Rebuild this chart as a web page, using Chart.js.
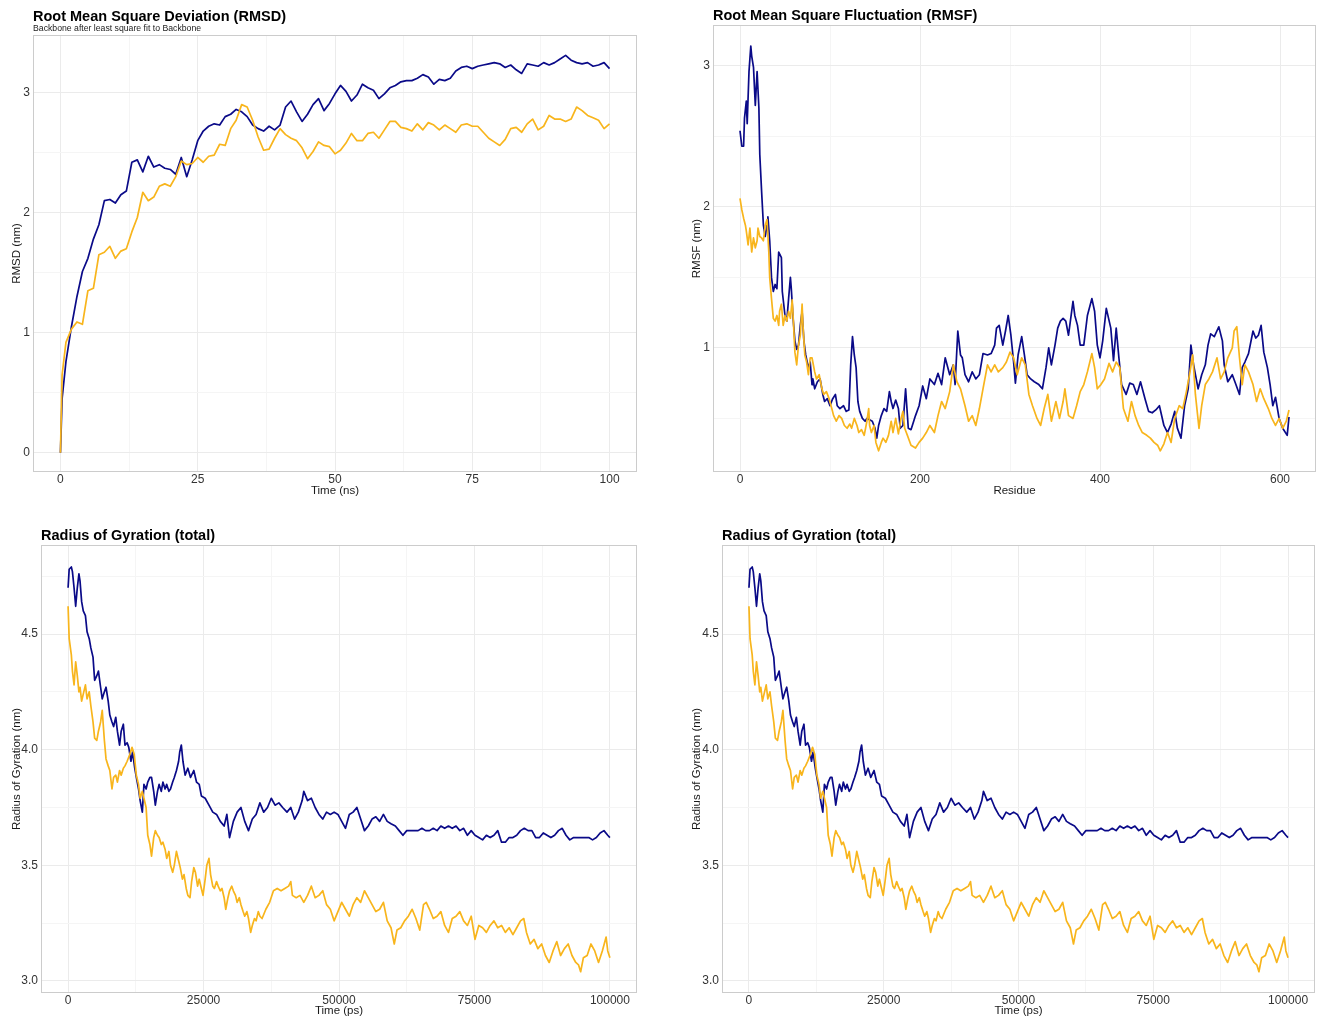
<!DOCTYPE html>
<html>
<head>
<meta charset="utf-8">
<title>RMSD / RMSF / Rg</title>
<script src="https://cdn.jsdelivr.net/npm/chart.js@4.4.1/dist/chart.umd.min.js"></script>
<style>
  html, body { margin: 0; padding: 0; background: #fff; }
  #page { position: relative; width: 1324px; height: 1018px; }
  #page canvas { position: absolute; }
</style>
</head>
<body>
<div id="page">
  <canvas id="rmsd" width="662" height="505" style="left:0;top:0"></canvas>
  <canvas id="rmsf" width="662" height="505" style="left:662px;top:0"></canvas>
  <canvas id="rgA" width="662" height="513" style="left:0;top:505px"></canvas>
  <canvas id="rgB" width="662" height="513" style="left:662px;top:505px"></canvas>
</div>
<script>
/* ---------- data: RMSD (ns / nm) ---------- */
const rmsdTime = [0, 0.3, 1, 2, 3, 4, 5, 6, 7, 8, 9, 10, 11, 12, 13, 14, 15, 16, 17, 18, 19, 20,
  21, 22, 23, 24, 25, 26, 27, 28, 29, 30, 31, 32, 33, 34, 35, 36, 37, 38, 39, 40,
  41, 42, 43, 44, 45, 46, 47, 48, 49, 50, 51, 52, 53, 54, 55, 56, 57, 58, 59, 60,
  61, 62, 63, 64, 65, 66, 67, 68, 69, 70, 71, 72, 73, 74, 75, 76, 77, 78, 79, 80,
  81, 82, 83, 84, 85, 86, 87, 88, 89, 90, 91, 92, 93, 94, 95, 96, 97, 98, 99, 100];
const rmsdNavy = [0, 0.45, 0.76, 1.05, 1.30, 1.51, 1.62, 1.78, 1.90, 2.10, 2.11, 2.08,
  2.15, 2.18, 2.42, 2.44, 2.34, 2.47, 2.38, 2.40, 2.37, 2.36,
  2.32, 2.46, 2.30, 2.44, 2.60, 2.68, 2.72, 2.74, 2.73, 2.80,
  2.82, 2.86, 2.84, 2.80, 2.73, 2.70, 2.68, 2.72, 2.69, 2.73,
  2.88, 2.93, 2.84, 2.76, 2.82, 2.90, 2.95, 2.85, 2.91, 2.99,
  3.06, 3.01, 2.93, 2.98, 3.07, 3.04, 3.02, 2.95, 2.99, 3.04,
  3.06, 3.09, 3.10, 3.10, 3.12, 3.15, 3.13, 3.07, 3.11, 3.10,
  3.12, 3.18, 3.21, 3.22, 3.20, 3.22, 3.23, 3.24, 3.25, 3.24,
  3.21, 3.23, 3.19, 3.16, 3.24, 3.23, 3.22, 3.25, 3.23, 3.25,
  3.28, 3.31, 3.27, 3.25, 3.24, 3.25, 3.22, 3.23, 3.25, 3.20];
const rmsdGold = [0, 0.65, 0.92, 1.03, 1.09, 1.07, 1.35, 1.37, 1.65, 1.67, 1.72, 1.62,
  1.68, 1.70, 1.84, 1.96, 2.17, 2.10, 2.13, 2.22, 2.24, 2.22,
  2.30, 2.43, 2.40, 2.41, 2.46, 2.42, 2.47, 2.48, 2.57, 2.56,
  2.70, 2.77, 2.90, 2.88, 2.77, 2.63, 2.52, 2.53, 2.62, 2.70,
  2.65, 2.62, 2.60, 2.54, 2.45, 2.51, 2.59, 2.56, 2.55, 2.49,
  2.52, 2.58, 2.66, 2.60, 2.60, 2.66, 2.67, 2.62, 2.69, 2.76,
  2.76, 2.71, 2.70, 2.68, 2.74, 2.69, 2.75, 2.73, 2.69, 2.73,
  2.70, 2.67, 2.73, 2.74, 2.72, 2.72, 2.67, 2.62, 2.59, 2.56,
  2.61, 2.70, 2.71, 2.67, 2.74, 2.78, 2.69, 2.72, 2.81, 2.78,
  2.78, 2.76, 2.78, 2.88, 2.85, 2.81, 2.79, 2.77, 2.70, 2.74];

/* ---------- data: RMSF (residue / nm) ---------- */
const rmsfResNavy = [0, 2, 4, 5, 7, 8, 10, 12, 13, 15, 17, 19, 21, 22, 24, 26, 28, 30, 31, 33,
  35, 37, 39, 41, 43, 46, 47, 50, 52, 54, 56, 57, 59, 61, 63, 65, 67, 69, 71, 73,
  76, 78, 80, 81, 83, 86, 89, 92, 94, 97, 100, 103, 106, 108, 111, 115, 118, 121, 123, 125,
  127, 129, 131, 133, 136, 139, 141, 144, 147, 150, 152, 154, 157, 160, 163, 166, 168, 170, 173, 176,
  178, 181, 184, 187,
  190, 195, 199, 203, 207, 211, 216, 220, 224, 228, 233, 237, 239, 242, 245, 247, 250, 254, 258, 262,
  266, 270, 275, 279, 283, 285, 288, 292, 295, 298, 301, 304, 306, 309, 313, 316, 319, 323, 327, 332,
  336, 340, 343, 346, 350, 353, 356, 359, 362, 365, 370, 372, 375, 378, 382, 386, 391, 394, 397, 400,
  403, 407, 412, 415, 418, 421, 424, 429, 433, 437, 441, 445, 450, 454, 458, 462, 466, 471, 475, 479,
  483, 486, 490, 494, 498, 501, 504, 509, 513, 517, 520, 523, 527, 532, 536, 538, 542, 547, 551, 555,
  558, 561, 565, 570, 573, 576, 579, 582, 586, 589, 592, 595, 599, 603, 608, 610];
const rmsfNavy = [2.54, 2.43, 2.43, 2.63, 2.75, 2.59, 2.96, 3.14, 3.07, 2.99,
  2.72, 2.96, 2.70, 2.37, 2.11, 1.87, 1.79, 1.87, 1.93, 1.76,
  1.50, 1.40, 1.45, 1.42, 1.68, 1.64, 1.40, 1.23, 1.19, 1.35,
  1.50, 1.42, 1.21, 1.05, 0.99, 1.02, 1.16, 1.26, 1.05, 0.95,
  0.86, 0.90, 0.74, 0.78, 0.71, 0.76, 0.78, 0.67, 0.62, 0.64,
  0.59, 0.64, 0.67, 0.59, 0.57, 0.59, 0.55, 0.56, 0.88, 1.08,
  0.95, 0.86, 0.62, 0.55, 0.50, 0.48, 0.50, 0.49, 0.48, 0.43,
  0.36, 0.45, 0.52, 0.57, 0.55, 0.69, 0.62, 0.57, 0.63, 0.57,
  0.43, 0.45, 0.71, 0.43,
  0.42, 0.52, 0.59, 0.73, 0.64, 0.78, 0.74, 0.82, 0.74, 0.93, 0.81, 0.88, 0.74, 1.12, 0.95, 0.93, 0.81, 0.76, 0.83, 0.78,
  0.81, 0.96, 0.95, 0.96, 1.02, 1.14, 1.16, 1.02, 1.12, 1.23, 1.09, 0.90, 0.75, 0.95, 1.08, 0.95, 0.81, 0.78, 0.76, 0.74,
  0.71, 0.86, 1.00, 0.88, 1.02, 1.14, 1.19, 1.21, 1.19, 1.09, 1.33, 1.23, 1.16, 1.02, 1.02, 1.23, 1.35, 1.26, 1.02, 0.93,
  1.05, 1.28, 1.14, 0.91, 1.14, 0.93, 0.74, 0.67, 0.75, 0.74, 0.67, 0.76, 0.64, 0.55, 0.54, 0.56, 0.59, 0.45, 0.40, 0.46,
  0.55, 0.43, 0.36, 0.59, 0.71, 1.02, 0.88, 0.71, 0.81, 0.88, 1.02, 1.10, 1.08, 1.15, 1.05, 0.88, 0.76, 0.81, 0.74, 0.67,
  0.86, 0.90, 0.96, 1.12, 1.07, 1.09, 1.16, 0.97, 0.86, 0.74, 0.59, 0.65, 0.50, 0.43, 0.38, 0.51];
const rmsfResGold = [0, 2, 4, 6, 7, 9, 11, 13, 15, 17, 19, 20, 22, 24, 26, 28, 30, 32, 33, 35,
  37, 39, 41, 43, 44, 46, 48, 50, 52, 54, 56, 58, 59, 61, 63, 65, 67, 69, 70, 72,
  74, 76, 78, 80, 83, 85, 88, 91, 93, 96, 99, 102, 104, 107, 110, 113, 116, 119, 122, 124,
  127, 130, 132, 135, 138, 141, 143, 144, 146, 149, 151, 154, 157, 159, 162, 165, 168, 170, 173, 176,
  179, 181, 183, 186,
  190, 195, 199, 203, 207, 211, 216, 220, 224, 228, 233, 237, 241, 245, 250, 254, 258, 262, 266, 270,
  275, 279, 283, 287, 292, 296, 300, 304, 308, 313, 317, 321, 325, 330, 334, 338, 342, 346, 351, 355,
  359, 361, 365, 370, 374, 378, 382, 386, 391, 394, 397, 401, 405, 410, 414, 418, 422, 426, 431, 435,
  439, 443, 447, 452, 456, 460, 464, 467, 471, 475, 479, 483, 488, 492, 496, 500, 503, 506, 510, 513,
  517, 521, 525, 530, 534, 538, 542, 547, 549, 552, 555, 558, 561, 565, 570, 574, 578, 582, 587, 591,
  595, 599, 603, 607, 610];
const rmsfGold = [2.06, 1.98, 1.92, 1.87, 1.83, 1.73, 1.85, 1.68, 1.78, 1.71,
  1.76, 1.85, 1.79, 1.78, 1.76, 1.87, 1.91, 1.68, 1.50, 1.35,
  1.21, 1.19, 1.23, 1.16, 1.26, 1.31, 1.16, 1.23, 1.19, 1.26,
  1.21, 1.34, 1.23, 0.97, 0.88, 1.02, 1.09, 1.31, 1.16, 0.95,
  0.90, 0.81, 0.93, 0.93, 0.83, 0.78, 0.81, 0.71, 0.67, 0.69,
  0.64, 0.57, 0.52, 0.48, 0.52, 0.50, 0.45, 0.43, 0.46, 0.43,
  0.50, 0.45, 0.40, 0.42, 0.38, 0.48, 0.57, 0.45, 0.40, 0.45,
  0.33, 0.27, 0.33, 0.36, 0.33, 0.38, 0.48, 0.40, 0.50, 0.39,
  0.50, 0.55, 0.43, 0.38,
  0.31, 0.29, 0.33, 0.36, 0.40, 0.45, 0.40, 0.52, 0.62, 0.57, 0.69, 0.88, 0.76, 0.71, 0.59, 0.48, 0.52, 0.45, 0.57, 0.71,
  0.88, 0.83, 0.88, 0.83, 0.86, 0.90, 0.97, 0.93, 0.81, 0.93, 0.88, 0.67, 0.59, 0.50, 0.45, 0.57, 0.67, 0.48, 0.62, 0.50,
  0.62, 0.71, 0.52, 0.50, 0.59, 0.69, 0.74, 0.83, 0.96, 0.86, 0.71, 0.74, 0.78, 0.89, 0.83, 0.90, 0.86, 0.57, 0.48, 0.62,
  0.52, 0.45, 0.40, 0.38, 0.36, 0.33, 0.31, 0.27, 0.32, 0.40, 0.33, 0.50, 0.59, 0.57, 0.69, 0.83, 0.95, 0.67, 0.43, 0.59,
  0.74, 0.78, 0.83, 0.93, 0.78, 0.83, 0.93, 1.00, 1.12, 1.15, 0.93, 0.74, 0.88, 0.83, 0.74, 0.62, 0.71, 0.64, 0.57, 0.50,
  0.45, 0.50, 0.43, 0.48, 0.56];

/* ---------- data: radius of gyration (ps / nm) ---------- */
const rgTimeNavy = [0, 200, 600, 800, 1100, 1400, 1700, 2000, 2200, 2500,
  2800, 3200, 3500, 3900, 4200, 4600, 4900, 5300, 5600, 6000,
  6300, 6700, 7000, 7400, 7700, 8100, 8400, 8800, 9100, 9500,
  9800, 10200, 10500, 10900, 11200, 11600, 11900, 12300, 12600, 13000,
  13300, 13700, 14000, 14400, 14700, 15100, 15400, 15800, 16100, 16500,
  16800, 17200, 17500, 17900, 18200, 18600, 18900, 19300, 19600, 20000,
  20400, 20600, 20900, 21200, 21600, 22100, 22600, 23200, 23700, 24200,
  24600, 25300, 26000, 26700, 27400, 28100, 28800, 29300, 29800, 30500,
  31200, 31900, 32600, 33300, 34000, 34700, 35400, 36100, 36800, 37500,
  38200, 38900, 39600, 40400, 41100, 41800, 42500, 43200, 43500, 44200,
  44900, 45600, 46300, 47000, 47700, 48400, 49100, 49800, 50500, 51200,
  51900, 52600, 53300, 54000, 54700, 55400, 56100, 56800, 57500, 58200,
  58900, 59600, 60400, 61100, 61800, 62500, 63200, 63900, 64600, 65300,
  66000, 66700, 67400, 68100, 68800, 69500, 70200, 70900, 71600, 72300,
  73000, 73700, 74400, 75100, 75800, 76500, 77200, 77900, 78600, 79300,
  80000, 80700, 81400, 82100, 82800, 83500, 84200, 84900, 85600, 86300,
  87000, 87700, 88400, 89100, 89800, 90500, 91200, 91900, 92600, 93300,
  94000, 94700, 95400, 96100, 96800, 97500, 98200, 98900, 99600, 100000];
const rgNavy = [4.70, 4.78, 4.79, 4.77, 4.70, 4.62, 4.70, 4.76, 4.73, 4.64,
  4.60, 4.58, 4.51, 4.48, 4.44, 4.40, 4.30, 4.32, 4.34, 4.27,
  4.22, 4.25, 4.27, 4.21, 4.15, 4.12, 4.10, 4.14, 4.08, 4.02,
  4.08, 4.11, 4.02, 4.03, 4.01, 3.95, 3.99, 3.92, 3.88, 3.83,
  3.78, 3.73, 3.85, 3.83, 3.86, 3.88, 3.88, 3.82, 3.76, 3.82,
  3.85, 3.82, 3.86, 3.83, 3.85, 3.82, 3.83, 3.86, 3.88, 3.91,
  3.95, 3.99, 4.02, 3.95, 3.89, 3.92, 3.88, 3.91, 3.86, 3.85,
  3.80, 3.79, 3.76, 3.73, 3.72, 3.69, 3.67, 3.72, 3.62, 3.69,
  3.73, 3.75, 3.69, 3.65, 3.70, 3.72, 3.77, 3.73, 3.75, 3.79,
  3.76, 3.77, 3.75, 3.73, 3.75, 3.70, 3.73, 3.78, 3.82, 3.78,
  3.79, 3.75, 3.72, 3.70, 3.73, 3.72, 3.73, 3.72, 3.69, 3.66,
  3.72, 3.73, 3.75, 3.70, 3.65, 3.67, 3.70, 3.71, 3.69, 3.72,
  3.69, 3.68, 3.67, 3.65, 3.63, 3.65, 3.65, 3.65, 3.65, 3.66,
  3.65, 3.65, 3.66, 3.65, 3.67, 3.66, 3.67, 3.66, 3.67, 3.65,
  3.66, 3.63, 3.65, 3.63, 3.62, 3.61, 3.63, 3.62, 3.63, 3.65,
  3.60, 3.60, 3.62, 3.62, 3.63, 3.65, 3.66, 3.65, 3.65, 3.62,
  3.62, 3.64, 3.63, 3.62, 3.63, 3.65, 3.66, 3.63, 3.61, 3.62,
  3.62, 3.62, 3.62, 3.62, 3.61, 3.62, 3.64, 3.65, 3.63, 3.62];
const rgTimeGold = [0, 200, 600, 800, 1100, 1400, 1700, 2000, 2200, 2500,
  2800, 3200, 3500, 3900, 4200, 4600, 4900, 5300, 5600, 6000,
  6300, 6700, 7000, 7400, 7700, 8100, 8400, 8800, 9100, 9500,
  9800, 10200, 10500, 10900, 11400, 11800, 12200, 12600, 13000, 13300,
  13700, 14000, 14400, 14700, 15100, 15400, 15800, 16100, 16500, 16800,
  17200, 17500, 17900, 18200, 18600, 18900, 19300, 19600, 20000, 20400,
  20700, 21100, 21400, 21800, 22100, 22500, 22800, 23200, 23500, 23900,
  24200, 24600, 24900, 25300, 25600, 26000, 26300, 26700, 27000, 27400,
  27700, 28100, 28400, 28800, 29100, 29500, 29800, 30200, 30500, 30900,
  31200, 31600, 31900, 32300, 32600, 33000, 33300, 33700, 34000, 34400,
  34700, 35100, 35400, 35800, 36500, 37200, 37900, 38600, 39300, 40000,
  40700, 41100, 41400, 42100, 42800, 43500, 44200, 44900, 45600, 46300,
  47000, 47700, 48400, 49100, 49800, 50500, 51200, 51900, 52600, 53300,
  54000, 54700, 55400, 56100, 56800, 57500, 58200, 58900, 59600, 60200,
  60700, 61400, 62100, 62800, 63500, 64200, 64900, 65600, 66100, 66700,
  67400, 68100, 68800, 69500, 70200, 70900, 71600, 72300, 73000, 73700,
  74400, 75100, 75800, 76500, 77200, 77900, 78600, 79300, 80000, 80700,
  81400, 82100, 82800, 83500, 84100, 84600, 85300, 86000, 86700, 87400,
  88100, 88800, 89500, 90200, 90900, 91600, 92300, 93000, 93700, 94200,
  94600, 95100, 95800, 96500, 97200, 97900, 98600, 99300, 99600, 100000];
const rgGold = [4.62, 4.48, 4.41, 4.34, 4.28, 4.38, 4.32, 4.25, 4.27, 4.21,
  4.24, 4.28, 4.22, 4.25, 4.19, 4.12, 4.05, 4.04, 4.08, 4.12,
  4.17, 4.04, 3.96, 3.93, 3.91, 3.83, 3.88, 3.89, 3.86, 3.91,
  3.89, 3.92, 3.93, 3.95, 3.98, 4.01, 3.98, 3.89, 3.85, 3.79,
  3.82, 3.79, 3.75, 3.63, 3.59, 3.54, 3.62, 3.65, 3.63, 3.62,
  3.59, 3.60, 3.57, 3.53, 3.56, 3.50, 3.47, 3.50, 3.56, 3.52,
  3.49, 3.44, 3.46, 3.40, 3.37, 3.36, 3.43, 3.49, 3.47, 3.41,
  3.44, 3.40, 3.37, 3.44, 3.50, 3.53, 3.46, 3.41, 3.40, 3.43,
  3.41, 3.39, 3.40, 3.36, 3.31, 3.36, 3.39, 3.41, 3.39, 3.37,
  3.34, 3.36, 3.33, 3.30, 3.28, 3.30, 3.27, 3.21, 3.24, 3.27,
  3.26, 3.30, 3.28, 3.27, 3.31, 3.34, 3.39, 3.40, 3.39, 3.40,
  3.41, 3.43, 3.37, 3.36, 3.37, 3.34, 3.37, 3.41, 3.36, 3.37,
  3.39, 3.33, 3.31, 3.26, 3.30, 3.34, 3.31, 3.28, 3.33, 3.36,
  3.34, 3.39, 3.36, 3.33, 3.30, 3.31, 3.34, 3.26, 3.23, 3.16,
  3.22, 3.23, 3.26, 3.28, 3.31, 3.27, 3.22, 3.33, 3.34, 3.31,
  3.27, 3.28, 3.30, 3.24, 3.21, 3.27, 3.28, 3.30, 3.26, 3.24,
  3.28, 3.18, 3.24, 3.23, 3.21, 3.24, 3.26, 3.23, 3.24, 3.21,
  3.23, 3.20, 3.23, 3.26, 3.27, 3.21, 3.16, 3.18, 3.14, 3.16,
  3.11, 3.08, 3.13, 3.17, 3.11, 3.14, 3.16, 3.11, 3.08, 3.07,
  3.04, 3.10, 3.11, 3.16, 3.13, 3.08, 3.13, 3.19, 3.13, 3.10];

/* ---------- ticks ---------- */
const rmsdXMajor = [0, 25, 50, 75, 100];
const rmsdXMinor = [12.5, 37.5, 62.5, 87.5];
const rmsdYMajor = [0, 1, 2, 3];
const rmsdYMinor = [0.5, 1.5, 2.5];
const rmsfXMajor = [0, 200, 400, 600];
const rmsfXMinor = [100, 300, 500];
const rmsfYMajor = [1, 2, 3];
const rmsfYMinor = [0.5, 1.5, 2.5];
const rgXMajor = [0, 25000, 50000, 75000, 100000];
const rgXMinor = [12500, 37500, 62500, 87500];
const rgYMajor = [3.0, 3.5, 4.0, 4.5];
const rgYMinor = [3.25, 3.75, 4.25, 4.75];

/* ---------- style ---------- */
const NAVY = "#0a0a88";
const GOLD = "#f8b51c";
const GRID_MAJOR = "#ebebeb";
const GRID_MINOR = "#f5f5f5";
const FONT = '"Liberation Sans", Arial, Helvetica, sans-serif';

const pairs = (xs, ys) => xs.map((x, i) => ({ x, y: ys[i] }));

// panel border + bold title (and optional subtitle) aligned to the plot area
const panelDecor = {
  id: "panelDecor",
  afterDraw(chart, args, opts) {
    const { ctx, chartArea: a } = chart;
    ctx.save();
    ctx.strokeStyle = "#cccccc";
    ctx.lineWidth = 1;
    ctx.strokeRect(Math.round(a.left) + 0.5, Math.round(a.top) + 0.5,
      Math.round(a.right - a.left) - 1, Math.round(a.bottom - a.top) - 1);
    ctx.fillStyle = "#000";
    ctx.textBaseline = "alphabetic";
    ctx.textAlign = "left";
    ctx.font = "bold 14.5px " + FONT;
    ctx.fillText(opts.title, a.left, opts.titleY);
    if (opts.subtitle) {
      ctx.fillStyle = "#222";
      ctx.font = "8.7px " + FONT;
      ctx.fillText(opts.subtitle, a.left, opts.subtitleY);
    }
    ctx.restore();
  }
};

function axis(c) {
  return {
    type: "linear",
    min: c.min,
    max: c.max,
    afterBuildTicks: s => {
      s.ticks = c.major.concat(c.minor).sort((p, q) => p - q).map(v => ({ value: v }));
    },
    afterFit: s => {
      if (s.isHorizontal()) s.height = c.size; else s.width = c.size;
    },
    grid: {
      drawTicks: false,
      lineWidth: 1,
      color: ctx => (ctx.tick && c.major.includes(ctx.tick.value)) ? GRID_MAJOR : GRID_MINOR
    },
    border: { display: false },
    ticks: {
      autoSkip: false,
      maxRotation: 0,
      padding: c.pad,
      color: "#333",
      font: { family: FONT, size: 12 },
      callback: v => c.major.includes(v) ? c.fmt(v) : ""
    },
    title: {
      display: true,
      text: c.title,
      color: "#1a1a1a",
      font: { family: FONT, size: 11.5 },
      padding: c.titlePad
    }
  };
}

function lineSet(data, color) {
  return {
    data,
    borderColor: color,
    borderWidth: 1.7,
    borderJoinStyle: "round",
    pointRadius: 0,
    tension: 0,
    fill: false
  };
}

function makePanel(id, p) {
  return new Chart(document.getElementById(id), {
    type: "line",
    data: { datasets: p.datasets },
    options: {
      responsive: false,
      animation: false,
      layout: { padding: p.padding },
      plugins: {
        legend: { display: false },
        tooltip: { enabled: false },
        panelDecor: p.decor
      },
      scales: { x: p.x, y: p.y }
    },
    plugins: [panelDecor]
  });
}

const int = v => String(v);
const oneDec = v => v.toFixed(1);

makePanel("rmsd", {
  padding: { left: 6, top: 35, right: 25, bottom: 6 },
  decor: { title: "Root Mean Square Deviation (RMSD)", titleY: 21,
    subtitle: "Backbone after least square fit to Backbone", subtitleY: 31 },
  datasets: [lineSet(pairs(rmsdTime, rmsdGold), GOLD), lineSet(pairs(rmsdTime, rmsdNavy), NAVY)],
  x: axis({ min: -5, max: 105, major: rmsdXMajor, minor: rmsdXMinor, fmt: int, size: 27, pad: 0,
    title: "Time (ns)", titlePad: { top: 0, bottom: 1 } }),
  y: axis({ min: -0.16, max: 3.48, major: rmsdYMajor, minor: rmsdYMinor, fmt: int, size: 27, pad: 3,
    title: "RMSD (nm)", titlePad: { top: 4, bottom: 0 } })
});

makePanel("rmsf", {
  padding: { left: 24, top: 25, right: 8, bottom: 6 },
  decor: { title: "Root Mean Square Fluctuation (RMSF)", titleY: 20 },
  datasets: [lineSet(pairs(rmsfResGold, rmsfGold), GOLD), lineSet(pairs(rmsfResNavy, rmsfNavy), NAVY)],
  x: axis({ min: -30, max: 640, major: rmsfXMajor, minor: rmsfXMinor, fmt: int, size: 27, pad: 0,
    title: "Residue", titlePad: { top: 0, bottom: 1 } }),
  y: axis({ min: 0.12, max: 3.29, major: rmsfYMajor, minor: rmsfYMinor, fmt: int, size: 27, pad: 3,
    title: "RMSF (nm)", titlePad: { top: 4, bottom: 0 } })
});

// the two Rg panels show the same trajectories
["rgA", "rgB"].forEach((id, i) => {
  makePanel(id, {
    padding: i === 0 ? { left: 6, top: 40, right: 25, bottom: 0 } : { left: 24, top: 40, right: 9, bottom: 0 },
    decor: { title: "Radius of Gyration (total)", titleY: 35 },
    datasets: [lineSet(pairs(rgTimeGold, rgGold), GOLD), lineSet(pairs(rgTimeNavy, rgNavy), NAVY)],
    x: axis({ min: -5000, max: 105000, major: rgXMajor, minor: rgXMinor, fmt: int, size: 25, pad: 0,
      title: "Time (ps)", titlePad: { top: 0, bottom: 0 } }),
    y: axis({ min: 2.948, max: 4.885, major: rgYMajor, minor: rgYMinor, fmt: oneDec, size: i === 0 ? 35 : 36, pad: 3,
      title: "Radius of Gyration (nm)", titlePad: { top: 4, bottom: 0 } })
  });
});
</script>
</body>
</html>
